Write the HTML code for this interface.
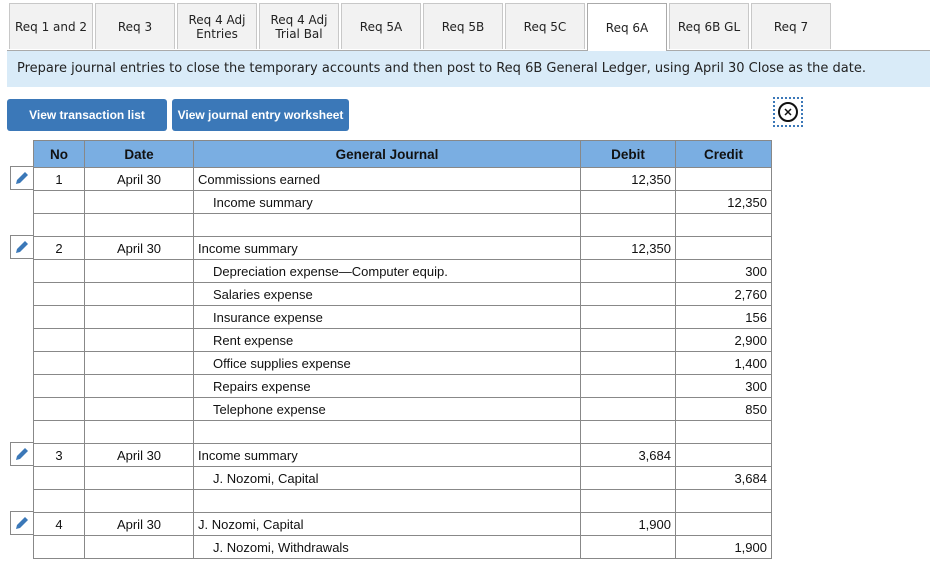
<!DOCTYPE html>
<html><head><meta charset="utf-8"><style>
body{margin:0;width:949px;height:565px;background:#fff;position:relative;overflow:hidden;font-family:"Liberation Sans",Arial,sans-serif}
.tab{position:absolute;top:3px;height:46px;background:#f2f2f2;border:1px solid #c8c8c8;border-bottom:none;box-sizing:border-box;font-family:"DejaVu Sans",Verdana,sans-serif;font-size:12px;color:#222;display:flex;align-items:center;justify-content:center;text-align:center;line-height:14px}
.tab.active{background:#fff;border-color:#aaa;height:48px;z-index:2}
.info{position:absolute;left:7px;top:50px;width:923px;height:37px;background:#d9ebf8;border-top:1px solid #aaa;box-sizing:border-box;font-family:"DejaVu Sans",Verdana,sans-serif;font-size:13px;color:#222;padding:10px 0 0 10px}
.btn{position:absolute;top:99px;height:32px;background:#3b78b8;color:#fff;border-radius:3px;font-weight:bold;font-size:12px;display:flex;align-items:center;justify-content:center}
table{position:absolute;left:33px;top:140px;border-collapse:collapse;font-size:13px;color:#111}
td,th{border:1px solid #888;height:23px;padding:0 4px;box-sizing:border-box}
th{background:#7aaee2;height:27px;font-size:13.5px}
.c{text-align:center}.r{text-align:right}.ind{padding-left:19px}
.edit{position:absolute;left:10px;width:24px;height:24px;border:1px solid #888;box-sizing:border-box;background:#fff}
</style></head><body>
<div class="tab" style="left:9px;width:84px">Req 1 and 2</div>
<div class="tab" style="left:95px;width:80px">Req 3</div>
<div class="tab" style="left:177px;width:80px">Req 4 Adj<br>Entries</div>
<div class="tab" style="left:259px;width:80px">Req 4 Adj<br>Trial Bal</div>
<div class="tab" style="left:341px;width:80px">Req 5A</div>
<div class="tab" style="left:423px;width:80px">Req 5B</div>
<div class="tab" style="left:505px;width:80px">Req 5C</div>
<div class="tab active" style="left:587px;width:80px">Req 6A</div>
<div class="tab" style="left:669px;width:80px">Req 6B GL</div>
<div class="tab" style="left:751px;width:80px">Req 7</div>
<div class="info">Prepare journal entries to close the temporary accounts and then post to Req 6B General Ledger, using April 30 Close as the date.</div>
<div class="btn" style="left:7px;width:160px">View transaction list</div>
<div class="btn" style="left:172px;width:177px">View journal entry worksheet</div>
<div style="position:absolute;left:773px;top:97px;width:30px;height:30px;border:2px dotted #3b78b8;box-sizing:border-box;display:flex;align-items:center;justify-content:center">
<svg width="22" height="22" viewBox="0 0 22 22"><circle cx="11" cy="11" r="9" fill="none" stroke="#111" stroke-width="2"/><path d="M8 8L14 14M14 8L8 14" stroke="#111" stroke-width="1.5"/></svg></div>
<table>
<tr><th style="width:51px">No</th><th style="width:109px">Date</th><th style="width:387px">General Journal</th><th style="width:95px">Debit</th><th style="width:96px">Credit</th></tr>
<tr><td class="c">1</td><td class="c">April 30</td><td>Commissions earned</td><td class="r">12,350</td><td></td></tr>
<tr><td></td><td></td><td class="ind">Income summary</td><td></td><td class="r">12,350</td></tr>
<tr><td></td><td></td><td></td><td></td><td></td></tr>
<tr><td class="c">2</td><td class="c">April 30</td><td>Income summary</td><td class="r">12,350</td><td></td></tr>
<tr><td></td><td></td><td class="ind">Depreciation expense—Computer equip.</td><td></td><td class="r">300</td></tr>
<tr><td></td><td></td><td class="ind">Salaries expense</td><td></td><td class="r">2,760</td></tr>
<tr><td></td><td></td><td class="ind">Insurance expense</td><td></td><td class="r">156</td></tr>
<tr><td></td><td></td><td class="ind">Rent expense</td><td></td><td class="r">2,900</td></tr>
<tr><td></td><td></td><td class="ind">Office supplies expense</td><td></td><td class="r">1,400</td></tr>
<tr><td></td><td></td><td class="ind">Repairs expense</td><td></td><td class="r">300</td></tr>
<tr><td></td><td></td><td class="ind">Telephone expense</td><td></td><td class="r">850</td></tr>
<tr><td></td><td></td><td></td><td></td><td></td></tr>
<tr><td class="c">3</td><td class="c">April 30</td><td>Income summary</td><td class="r">3,684</td><td></td></tr>
<tr><td></td><td></td><td class="ind">J. Nozomi, Capital</td><td></td><td class="r">3,684</td></tr>
<tr><td></td><td></td><td></td><td></td><td></td></tr>
<tr><td class="c">4</td><td class="c">April 30</td><td>J. Nozomi, Capital</td><td class="r">1,900</td><td></td></tr>
<tr><td></td><td></td><td class="ind">J. Nozomi, Withdrawals</td><td></td><td class="r">1,900</td></tr>
</table>
<div class="edit" style="top:166px"><svg width="22" height="22"><path d="M5 17L6 13L14 5L17 8L9 16Z" fill="#3b78b8"/></svg></div>
<div class="edit" style="top:235px"><svg width="22" height="22"><path d="M5 17L6 13L14 5L17 8L9 16Z" fill="#3b78b8"/></svg></div>
<div class="edit" style="top:442px"><svg width="22" height="22"><path d="M5 17L6 13L14 5L17 8L9 16Z" fill="#3b78b8"/></svg></div>
<div class="edit" style="top:511px"><svg width="22" height="22"><path d="M5 17L6 13L14 5L17 8L9 16Z" fill="#3b78b8"/></svg></div>
</body></html>
